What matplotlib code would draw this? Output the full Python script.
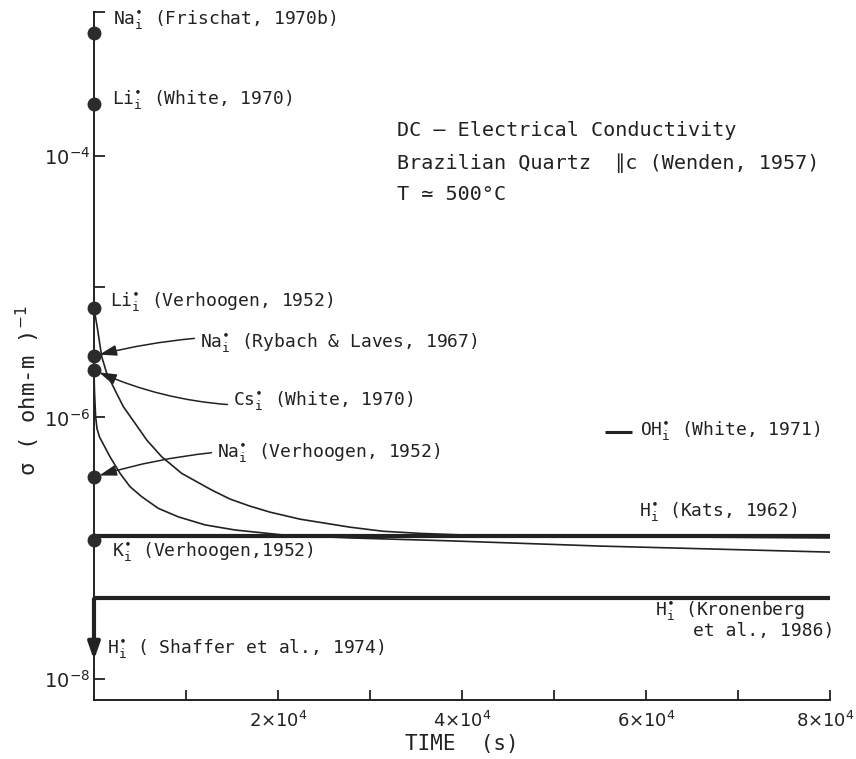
import numpy as np
import matplotlib.pyplot as plt
import matplotlib.transforms as mtransforms
from matplotlib.ticker import FixedLocator

plt.rcParams['font.family'] = ['DejaVu Sans Mono', 'DejaVu Sans']
plt.rcParams['mathtext.fontset'] = 'custom'
plt.rcParams['mathtext.rm'] = 'DejaVu Sans'
plt.rcParams['mathtext.it'] = 'DejaVu Sans'

ink = '#222222'

# initial conductivities at t = 0 (points on the sigma axis)
species = ['Na', 'Li', 'Li', 'Na', 'Cs', 'Na', 'K']
refs = ['(Frischat, 1970b)', '(White, 1970)', '(Verhoogen, 1952)',
        '(Rybach & Laves, 1967)', '(White, 1970)', '(Verhoogen, 1952)',
        '(Verhoogen,1952)']
sigma0 = [8.7e-4, 2.5e-4, 6.9e-6, 2.95e-6, 2.3e-6, 3.5e-7, 1.16e-7]

# decay curves (time s, sigma)
t_a = [0, 400, 840, 1380, 2280, 3190, 4460, 5730, 7360, 9530, 12790, 14780, 16960,
       19130, 22390, 27830, 31410, 35440, 41960, 55000, 80000]
s_a = [6.88e-6, 4.67e-6, 2.92e-6, 2.18e-6, 1.62e-6, 1.21e-6, 9.04e-7, 6.73e-7, 5.01e-7,
       3.74e-7, 2.79e-7, 2.38e-7, 2.10e-7, 1.89e-7, 1.67e-7, 1.45e-7, 1.35e-7, 1.30e-7,
       1.25e-7, 1.23e-7, 1.20e-7]

t_b = [0, 50, 110, 180, 330, 600, 1010, 1740, 2830, 3910, 5190, 6990, 9160, 12070, 15330,
       20760, 27830, 38700, 55000, 80000]
s_b = [2.31e-6, 1.62e-6, 1.29e-6, 1.01e-6, 8.20e-7, 7.10e-7, 6.26e-7, 5.01e-7, 3.74e-7,
       2.96e-7, 2.48e-7, 2.02e-7, 1.74e-7, 1.51e-7, 1.38e-7, 1.26e-7, 1.20e-7, 1.14e-7,
       1.04e-7, 9.35e-8]

# constant hydrogen levels
t_flat = [0, 80000]
s_kats = [1.24e-7, 1.24e-7]
s_kron = [4.2e-8, 4.2e-8]
s_shaffer = [4.1e-8, 1.4e-8]
t_oh = [55500, 58500]
s_oh = [7.7e-7, 7.7e-7]

xticks = [2e4, 4e4, 6e4, 8e4]
xticklabels = [r'$2{\times}10^4$', r'$4{\times}10^4$', r'$6{\times}10^4$', r'$8{\times}10^4$']
xminor = [1e4, 3e4, 5e4, 7e4]
ylims = (10 ** -8.16, 10 ** -2.90)
yticks = [1e-8, 1e-6, 1e-5, 1e-4, ylims[1]]
yticklabels = [r'$10^{-8}$', r'$10^{-6}$', '', r'$10^{-4}$', '']

fig = plt.figure(figsize=(8.56, 7.59), dpi=100)
ax = fig.add_axes([0.1098, 0.0777, 0.8598, 0.9065])
ax.set_yscale('log')
ax.set_xlim(0, 8e4)
ax.set_ylim(*ylims)

ax.plot(t_a, s_a, color=ink, lw=1.2)
ax.plot(t_b, s_b, color=ink, lw=1.2)
ax.plot(t_flat, s_kats, color=ink, lw=3.0, solid_capstyle='butt')
ax.plot(t_flat, s_kron, color=ink, lw=3.0, solid_capstyle='butt')
ax.plot(t_oh, s_oh, color=ink, lw=2.2, solid_capstyle='butt')
ax.annotate('', xy=(0, s_shaffer[1]), xytext=(0, s_shaffer[0]),
            arrowprops=dict(arrowstyle='-|>,head_length=1.0,head_width=0.35', color=ink, lw=3.0,
                            shrinkA=0, shrinkB=0))

ax.plot([0] * len(sigma0), sigma0, 'o', color='#2b2b2b', ms=9, clip_on=False, zorder=5)

lab = dict(fontsize=13, color=ink, va='center', ha='left')

def tag(sp, ref):
    return sp + r'$^{\bullet}_{\mathregular{i}}$' + ' ' + ref

# labels next to their points
ax.annotate(tag(species[0], refs[0]), (0, sigma0[0]), xytext=(19, 13), textcoords='offset pixels', **lab)
ax.annotate(tag(species[1], refs[1]), (0, sigma0[1]), xytext=(18, 4), textcoords='offset pixels', **lab)
ax.annotate(tag(species[2], refs[2]), (0, sigma0[2]), xytext=(16, 6), textcoords='offset pixels', **lab)
ax.annotate(tag(species[6], refs[6]), (0, sigma0[6]), xytext=(18, -12), textcoords='offset pixels', **lab)

arrow = dict(arrowstyle='-|>,head_length=0.8,head_width=0.25', color=ink, lw=1.1,
             shrinkA=2, shrinkB=4)
ax.annotate(tag(species[3], refs[3]), (0, sigma0[3]), xytext=(106, 14), textcoords='offset pixels',
            arrowprops=dict(connectionstyle='arc3,rad=0.1', **arrow), **lab)
ax.annotate(tag(species[4], refs[4]), (0, sigma0[4]), xytext=(139, -30), textcoords='offset pixels',
            arrowprops=dict(connectionstyle='arc3,rad=-0.15', **arrow), **lab)
ax.annotate(tag(species[5], refs[5]), (0, sigma0[5]), xytext=(123, 25), textcoords='offset pixels',
            arrowprops=dict(connectionstyle='arc3,rad=0.1', **arrow), **lab)

ax.annotate(r'OH$^{\bullet}_{\mathregular{i}}$ (White, 1971)', (t_oh[1], s_oh[1]),
            xytext=(8, 2), textcoords='offset pixels', **lab)
ax.annotate(r'H$^{\bullet}_{\mathregular{i}}$ (Kats, 1962)', (59200, s_kats[0]),
            xytext=(0, 25), textcoords='offset pixels', **lab)
ax.annotate(r'H$^{\bullet}_{\mathregular{i}}$ (Kronenberg', (61000, s_kron[0]),
            xytext=(0, -13), textcoords='offset pixels', **lab)
ax.annotate('et al., 1986)', (61000, s_kron[0]),
            xytext=(38, -33), textcoords='offset pixels', **lab)
ax.annotate(r'H$^{\bullet}_{\mathregular{i}}$ ( Shaffer et al., 1974)', (0, s_shaffer[1]),
            xytext=(13, 11), textcoords='offset pixels', **lab)

title = dict(fontsize=14.5, color=ink, ha='left', va='center', transform=fig.transFigure)
fig.text(397 / 856, 1 - 130 / 759, 'DC – Electrical Conductivity', **title)
fig.text(397 / 856, 1 - 163 / 759, 'Brazilian Quartz  ∥c (Wenden, 1957)', **title)
fig.text(397 / 856, 1 - 195 / 759, 'T ≃ 500°C', **title)

for s in ['top', 'right']:
    ax.spines[s].set_visible(False)
for s in ['left', 'bottom']:
    ax.spines[s].set_linewidth(1.4)
    ax.spines[s].set_color(ink)

ax.set_xticks(xticks)
ax.set_xticklabels(xticklabels)
ax.xaxis.set_minor_locator(FixedLocator(xminor))
ax.yaxis.set_major_locator(FixedLocator(yticks))
ax.set_yticklabels(yticklabels)
ax.yaxis.set_minor_locator(FixedLocator([]))
ax.tick_params(axis='x', which='both', direction='in', length=7, width=1.3, colors=ink,
               labelsize=13, pad=8)
ax.tick_params(axis='y', which='both', direction='in', length=8, width=1.3, colors=ink,
               labelsize=14, pad=3)
# keep the last time label inside the picture
last = ax.get_xticklabels()[-1]
last.set_transform(last.get_transform() + mtransforms.ScaledTranslation(-5 / 100, 0, fig.dpi_scale_trans))

ax.set_xlabel('TIME  (s)', fontsize=15, color=ink, labelpad=2)
ax.set_ylabel('σ ( ohm-m )$^{-1}$', fontsize=16, color=ink)
ax.yaxis.set_label_coords(-0.07, 0.45)

fig.savefig('out.png', dpi=100, facecolor='white')
